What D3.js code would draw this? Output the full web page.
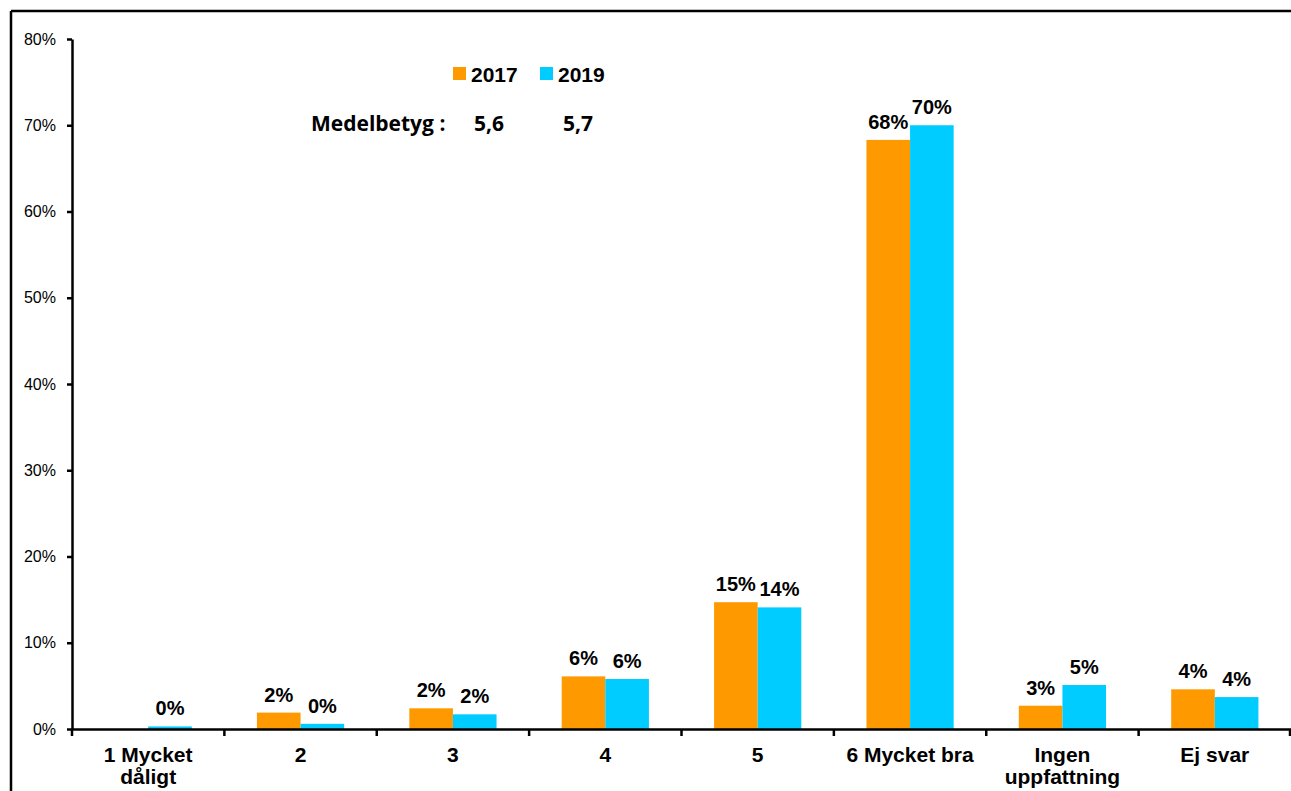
<!DOCTYPE html>
<html><head><meta charset="utf-8">
<script src="https://cdn.jsdelivr.net/npm/d3@7"></script>
<style>
html,body{margin:0;padding:0;background:#fff;}
svg{display:block;font-family:"Liberation Sans",Arial,sans-serif;}
</style></head>
<body><svg id="c" width="1291" height="791"></svg>
<script>
const categories = ["1 Mycket\ndåligt","2","3","4","5","6 Mycket bra","Ingen\nuppfattning","Ej svar"];
const series = ["2017","2019"];
const values2017 = [null, 1.9, 2.4, 6.1, 14.7, 68.3, 2.7, 4.6];
const values2019 = [0.3, 0.6, 1.7, 5.8, 14.1, 70.0, 5.1, 3.7];
const labels2017 = [null, "2%", "2%", "6%", "15%", "68%", "3%", "4%"];
const labels2019 = ["0%", "0%", "2%", "6%", "14%", "70%", "5%", "4%"];
const colors = ["#FF9900", "#00CCFF"];
const yTicks = [0,10,20,30,40,50,60,70,80];
const meanLabel = "Medelbetyg :";
const means = ["5,6", "5,7"];

const svg = d3.select("#c");
// frame
svg.append("line").attr("x1",11).attr("x2",1291).attr("y1",11).attr("y2",11).attr("stroke","#000").attr("stroke-width",2.5);
svg.append("line").attr("x1",11).attr("x2",11).attr("y1",11).attr("y2",791).attr("stroke","#000").attr("stroke-width",2.5);

const left = 72, right = 1291, y0 = 729, yTop = 39;
const x0 = d3.scaleBand().domain(categories).range([left, right]).paddingInner(0).paddingOuter(0);
const x1 = d3.scaleBand().domain(series).range([0, x0.bandwidth()]).paddingInner(0).paddingOuter(0.747);
const y = d3.scaleLinear().domain([0, 80]).range([y0, yTop]);

// y axis
const yAxis = d3.axisLeft(y).tickValues(yTicks).tickFormat(d => d + "%").tickSize(5).tickSizeOuter(0);
const gy = svg.append("g").attr("transform", `translate(${left},0)`).call(yAxis);
gy.attr("font-size", null).attr("font-family", null);
gy.select(".domain").attr("stroke-width", 2.5);
gy.selectAll(".tick line").attr("stroke-width", 2.5);
gy.selectAll(".tick text").style("font-size", "16px").style("font-family", "Liberation Sans, Arial").attr("fill","#000").attr("x", -16);

// bars
const data = [values2017, values2019];
const labs = [labels2017, labels2019];
series.forEach((s, si) => {
  const rows = categories.map((c, i) => ({c, v: data[si][i], l: labs[si][i]})).filter(d => d.v !== null);
  svg.append("g").selectAll("rect").data(rows).join("rect")
    .attr("x", d => x0(d.c) + x1(s))
    .attr("width", x1.bandwidth())
    .attr("y", d => y(d.v))
    .attr("height", d => y0 - y(d.v))
    .attr("fill", colors[si]);
  svg.append("g").selectAll("text").data(rows).join("text")
    .attr("x", d => x0(d.c) + x1(s) + x1.bandwidth()/2)
    .attr("y", d => y(d.v) - 11)
    .attr("text-anchor", "middle")
    .style("font-size", "20px").attr("font-weight", "bold")
    .text(d => d.l);
});

// x axis
const xAxis = d3.axisBottom(x0).tickSize(0).tickFormat("");
const gx = svg.append("g").attr("transform", `translate(0,${y0})`).call(xAxis);
gx.select(".domain").attr("stroke-width", 2.5);
const bounds = categories.map(c => x0(c)).concat([x0.range()[1] - 1]);
gx.selectAll("line.b").data(bounds).join("line").attr("class","b")
  .attr("x1", d => d).attr("x2", d => d).attr("y1", 0).attr("y2", 7)
  .attr("stroke", "#000").attr("stroke-width", 2.5);
const xl = svg.append("g").selectAll("text").data(categories).join("text")
  .attr("x", d => x0(d) + x0.bandwidth()/2)
  .attr("y", 762)
  .attr("text-anchor", "middle")
  .style("font-size", "21px").attr("font-weight", "bold");
xl.each(function(d){
  const t = d3.select(this);
  d.split("\n").forEach((line, i) => {
    t.append("tspan").attr("x", x0(d) + x0.bandwidth()/2).attr("dy", i === 0 ? 0 : 22).text(line);
  });
});

// legend
const lg = svg.append("g");
const legX = [453, 540];
series.forEach((s, i) => {
  lg.append("rect").attr("x", legX[i]).attr("y", 67).attr("width", 13).attr("height", 13).attr("fill", colors[i]);
  lg.append("text").attr("x", legX[i] + 18).attr("y", 82).style("font-size", "21px").attr("font-weight", "bold").text(s);
});
svg.append("text").attr("x", 311).attr("y", 131).style("font-size", "21px").attr("font-weight","bold")
  .attr("font-family","Open Sans, Liberation Sans, Arial").text(meanLabel);
const meanX = [474, 563];
means.forEach((m, i) => {
  svg.append("text").attr("x", meanX[i]).attr("y", 131).style("font-size", "21px").attr("font-weight","bold")
    .attr("font-family","Open Sans, Liberation Sans, Arial").text(m);
});
</script></body></html>
